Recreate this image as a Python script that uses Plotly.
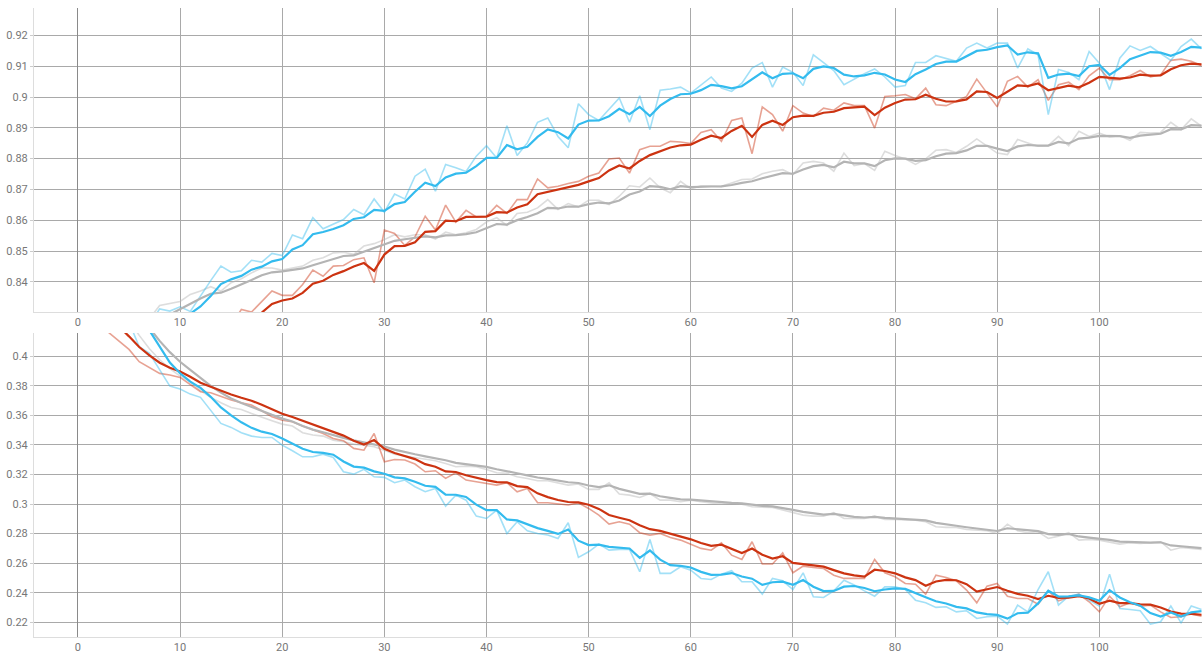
import plotly.graph_objects as go

steps = list(range(1, 111))

# ---------------- accuracy (top panel) raw values ----------------
acc_blue = [0.790, 0.805, 0.812, 0.816, 0.819, 0.822, 0.826,
            0.8312, 0.8305, 0.8319, 0.8304, 0.8355, 0.8404, 0.8451, 0.8431, 0.8436, 0.8470, 0.8464, 0.8492, 0.8485, 0.8552,
            0.8540, 0.8608, 0.8572, 0.8586, 0.8602, 0.8635, 0.8618, 0.8669, 0.8626, 0.8685, 0.8669, 0.8743, 0.8766, 0.8694,
            0.8781, 0.8770, 0.8758, 0.8808, 0.8842, 0.8802, 0.8907, 0.8810, 0.8851, 0.8918, 0.8932, 0.8872, 0.8835, 0.8978,
            0.8943, 0.8924,
            0.8959, 0.8997, 0.8918, 0.9004, 0.8894, 0.9022, 0.9026, 0.9032, 0.9013, 0.9040, 0.9065, 0.9029, 0.9018, 0.9045,
            0.9094, 0.9112, 0.9032, 0.9097, 0.9080, 0.9037, 0.9137, 0.9112, 0.9086, 0.9040, 0.9058, 0.9076, 0.9091, 0.9065,
            0.9032,
            0.9037, 0.9112, 0.9112, 0.9134, 0.9126, 0.9116, 0.9159, 0.9175, 0.9159, 0.9175, 0.9175, 0.9094, 0.9156, 0.9137,
            0.8943, 0.9089, 0.9080, 0.9056, 0.9148, 0.9110, 0.9024, 0.9126, 0.9166, 0.9151, 0.9164, 0.9141, 0.9119, 0.9164,
            0.9188, 0.9156]

acc_red = [0.740, 0.770, 0.785, 0.795, 0.800, 0.805, 0.808, 0.810, 0.813, 0.815, 0.817, 0.819, 0.821, 0.823, 0.826,
           0.8310, 0.8302, 0.8337, 0.8370, 0.8356, 0.8356, 0.8391, 0.8438, 0.8418, 0.8451, 0.8453, 0.8472, 0.8478, 0.8397,
           0.8568, 0.8557, 0.8518, 0.8546, 0.8613, 0.8568, 0.8649, 0.8594, 0.8632, 0.8611, 0.8613, 0.8648, 0.8622, 0.8667,
           0.8667, 0.8734, 0.8705, 0.8710, 0.8719, 0.8726, 0.8743, 0.8753,
           0.8799, 0.8802, 0.8753, 0.8829, 0.8840, 0.8840, 0.8856, 0.8854, 0.8849, 0.8885, 0.8894, 0.8856, 0.8924, 0.8932,
           0.8816, 0.8968, 0.8943, 0.8889, 0.8972, 0.8948, 0.8937, 0.8964, 0.8957, 0.8981, 0.8972, 0.8972, 0.8899, 0.9002,
           0.9004,
           0.9008, 0.8994, 0.9029, 0.8975, 0.8972, 0.8986, 0.9002, 0.9058, 0.9013, 0.8968, 0.9051, 0.9067, 0.9032, 0.9056,
           0.8989, 0.9040, 0.9048, 0.9024, 0.9069, 0.9094, 0.9056, 0.9056, 0.9069, 0.9086, 0.9065, 0.9072, 0.9119, 0.9123,
           0.9116, 0.9102]

acc_gray = [0.790, 0.805, 0.813, 0.818, 0.822, 0.825, 0.828,
            0.8323, 0.8330, 0.8336, 0.8359, 0.8370, 0.8384, 0.8370, 0.8397, 0.8410, 0.8429, 0.8445, 0.8445, 0.8438, 0.8445,
            0.8451, 0.8470, 0.8478, 0.8494, 0.8496, 0.8489, 0.8516, 0.8524, 0.8537, 0.8553, 0.8546, 0.8553, 0.8553, 0.8539,
            0.8561, 0.8553, 0.8559, 0.8570, 0.8594, 0.8608, 0.8583, 0.8622, 0.8626, 0.8640, 0.8667, 0.8635, 0.8654, 0.8643,
            0.8665, 0.8665,
            0.8651, 0.8678, 0.8712, 0.8708, 0.8737, 0.8705, 0.8689, 0.8726, 0.8702, 0.8712, 0.8710, 0.8710, 0.8721, 0.8732,
            0.8734, 0.8751, 0.8759, 0.8764, 0.8748, 0.8786, 0.8791, 0.8786, 0.8759, 0.8818, 0.8777, 0.8784, 0.8762, 0.8824,
            0.8810,
            0.8799, 0.8781, 0.8799, 0.8827, 0.8829, 0.8820, 0.8840, 0.8864, 0.8842, 0.8818, 0.8813, 0.8862, 0.8851, 0.8840,
            0.8842, 0.8872, 0.8842, 0.8889, 0.8872, 0.8883, 0.8870, 0.8874, 0.8859, 0.8885, 0.8883, 0.8885, 0.8918, 0.8894,
            0.8929, 0.8905]

# ---------------- loss (bottom panel) raw values ----------------
loss_blue = [0.520, 0.480, 0.460, 0.440, 0.423, 0.4063, 0.4018, 0.3905, 0.3797, 0.3777, 0.3743, 0.3721, 0.3635, 0.3545,
             0.3518, 0.3482, 0.3459, 0.3450, 0.3450, 0.3398, 0.3360,
             0.3319, 0.3319, 0.3337, 0.3315, 0.3218, 0.3202, 0.3234, 0.3184, 0.3180, 0.3144, 0.3162, 0.3117, 0.3083, 0.3105,
             0.2986, 0.3060, 0.3026, 0.2918, 0.2902, 0.2959, 0.2801, 0.2880, 0.2819, 0.2801, 0.2790, 0.2767, 0.2873, 0.2639,
             0.2677, 0.2729,
             0.2688, 0.2693, 0.2693, 0.2542, 0.2760, 0.2531, 0.2531, 0.2576, 0.2553, 0.2497, 0.2490, 0.2526, 0.2549, 0.2474,
             0.2474, 0.2391, 0.2497, 0.2481, 0.2422, 0.2535, 0.2373, 0.2368, 0.2413, 0.2485, 0.2452, 0.2413, 0.2377, 0.2440,
             0.2440,
             0.2422, 0.2350, 0.2332, 0.2301, 0.2305, 0.2271, 0.2278, 0.2226, 0.2238, 0.2242, 0.2188, 0.2316, 0.2271, 0.2422,
             0.2542, 0.2316, 0.2377, 0.2391, 0.2350, 0.2310, 0.2526, 0.2294, 0.2287, 0.2278, 0.2188, 0.2204, 0.2310, 0.2197,
             0.2310, 0.2287]

loss_red = [0.460, 0.430, 0.416, 0.4104, 0.4045, 0.3962, 0.3923, 0.3883, 0.3872, 0.3856, 0.3808, 0.3759, 0.3752, 0.3725,
            0.3703, 0.3684, 0.3669, 0.3630, 0.3590, 0.3567, 0.3556,
            0.3527, 0.3500, 0.3477, 0.3443, 0.3428, 0.3376, 0.3364, 0.3477, 0.3286, 0.3301, 0.3297, 0.3270, 0.3218, 0.3225,
            0.3173, 0.3211, 0.3162, 0.3150, 0.3139, 0.3128, 0.3144, 0.3083, 0.3105, 0.3008, 0.3008, 0.2999, 0.2993, 0.3008,
            0.2970, 0.2925,
            0.2864, 0.2880, 0.2864, 0.2806, 0.2790, 0.2801, 0.2774, 0.2756, 0.2729, 0.2700, 0.2688, 0.2738, 0.2654, 0.2625,
            0.2745, 0.2594, 0.2594, 0.2670, 0.2535, 0.2580, 0.2571, 0.2564, 0.2519, 0.2497, 0.2497, 0.2497, 0.2625, 0.2535,
            0.2508,
            0.2463, 0.2458, 0.2391, 0.2519, 0.2503, 0.2481, 0.2418, 0.2332, 0.2445, 0.2463, 0.2377, 0.2361, 0.2361, 0.2323,
            0.2413, 0.2346, 0.2368, 0.2391, 0.2339, 0.2271, 0.2377, 0.2305, 0.2332, 0.2310, 0.2316, 0.2271, 0.2233, 0.2238,
            0.2256, 0.2242]

loss_gray = [0.500, 0.470, 0.450, 0.435, 0.424, 0.414, 0.405, 0.3975, 0.3915, 0.3865, 0.3826, 0.3766, 0.3721, 0.3684,
             0.3653, 0.3639, 0.3612, 0.3590, 0.3563, 0.3540, 0.3527,
             0.3482, 0.3466, 0.3459, 0.3432, 0.3421, 0.3405, 0.3398, 0.3387, 0.3364, 0.3337, 0.3324, 0.3315, 0.3301, 0.3292,
             0.3274, 0.3252, 0.3256, 0.3252, 0.3234, 0.3211, 0.3207, 0.3184, 0.3173, 0.3157, 0.3157, 0.3144, 0.3128, 0.3135,
             0.3099, 0.3099,
             0.3144, 0.3067, 0.3060, 0.3044, 0.3071, 0.3026, 0.3026, 0.3015, 0.3026, 0.3015, 0.3008, 0.2999, 0.3004, 0.2999,
             0.2981, 0.2977, 0.2977, 0.2959, 0.2941, 0.2925, 0.2918, 0.2918, 0.2941, 0.2902, 0.2902, 0.2902, 0.2918, 0.2896,
             0.2896,
             0.2896, 0.2891, 0.2880, 0.2846, 0.2842, 0.2842, 0.2828, 0.2824, 0.2819, 0.2801, 0.2864, 0.2819, 0.2806, 0.2812,
             0.2767, 0.2783, 0.2806, 0.2756, 0.2761, 0.2756, 0.2745, 0.2729, 0.2738, 0.2733, 0.2738, 0.2745, 0.2688, 0.2706,
             0.2700, 0.2693]

# tick labels
x_tickvals = [0, 10, 20, 30, 40, 50, 60, 70, 80, 90, 100, 110]
x_ticktext = ["0", "10", "20", "30", "40", "50", "60", "70", "80", "90", "100", ""]
acc_tickvals = [0.84, 0.85, 0.86, 0.87, 0.88, 0.89, 0.90, 0.91, 0.92]
acc_ticktext = ["0.84", "0.85", "0.86", "0.87", "0.88", "0.89", "0.9", "0.91", "0.92"]
loss_tickvals = [0.22, 0.24, 0.26, 0.28, 0.30, 0.32, 0.34, 0.36, 0.38, 0.40]
loss_ticktext = ["0.22", "0.24", "0.26", "0.28", "0.3", "0.32", "0.34", "0.36", "0.38", "0.4"]

SMOOTHING = 0.6
COL_BLUE = "#33bbee"
COL_RED = "#cc3311"
COL_GRAY = "#b4b4b4"


def ema(values, w=SMOOTHING):
    """TensorBoard-style debiased exponential moving average."""
    out, last = [], 0.0
    for i, v in enumerate(values, start=1):
        last = last * w + (1 - w) * v
        out.append(last / (1 - w ** i))
    return out


fig = go.Figure()

panels = [
    ("x", "y", [(acc_gray, COL_GRAY), (acc_red, COL_RED), (acc_blue, COL_BLUE)]),
    ("x2", "y2", [(loss_gray, COL_GRAY), (loss_red, COL_RED), (loss_blue, COL_BLUE)]),
]
for xa, ya, series in panels:
    for vals, col in series:
        fig.add_trace(go.Scatter(x=steps, y=vals, xaxis=xa, yaxis=ya, mode="lines",
                                 line=dict(color=col, width=1.6), opacity=0.45,
                                 hoverinfo="skip", showlegend=False))
    for vals, col in series:
        fig.add_trace(go.Scatter(x=steps, y=ema(vals), xaxis=xa, yaxis=ya, mode="lines",
                                 line=dict(color=col, width=2.2),
                                 hoverinfo="skip", showlegend=False))

tickfont = dict(family="Roboto, sans-serif", size=11, color="#777777")
xcommon = dict(range=[-4.3, 110.05], tickmode="array", tickvals=x_tickvals, ticktext=x_ticktext,
               showgrid=True, gridcolor="#a9a9a9", gridwidth=1,
               zeroline=True, zerolinecolor="#8a8a8a", zerolinewidth=1.2,
               showline=True, linecolor="#dddddd", linewidth=1, ticks="",
               tickfont=tickfont)
ycommon = dict(showgrid=True, gridcolor="#a9a9a9", gridwidth=1, zeroline=False,
               showline=True, linecolor="#dddddd", linewidth=1,
               ticks="outside", ticklen=3, tickcolor="#cccccc", tickmode="array",
               tickfont=tickfont)

fig.update_layout(
    width=1203, height=657,
    margin=dict(l=34, r=1, t=8, b=20, autoexpand=False),
    paper_bgcolor="white", plot_bgcolor="white",
    xaxis=dict(domain=[0, 1], anchor="y", **xcommon),
    yaxis=dict(domain=[0.5167, 1.0], anchor="x", range=[0.8302, 0.9289],
               tickvals=acc_tickvals, ticktext=acc_ticktext, **ycommon),
    xaxis2=dict(domain=[0, 1], anchor="y2", **xcommon),
    yaxis2=dict(domain=[0.0, 0.4833], anchor="x2", range=[0.2101, 0.4156],
                tickvals=loss_tickvals, ticktext=loss_ticktext, **ycommon),
)

fig.write_html("out.html", config={"displayModeBar": False},
               post_script="document.body.style.margin='0';document.body.style.overflow='hidden';")
